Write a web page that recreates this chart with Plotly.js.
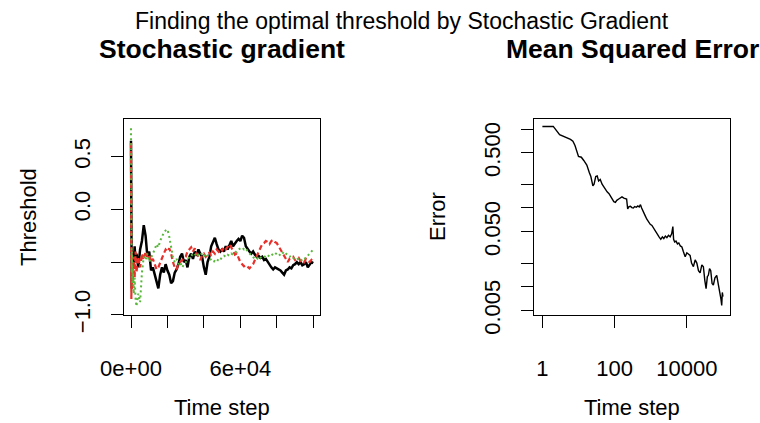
<!DOCTYPE html>
<html>
<head>
<meta charset="utf-8">
<script src="https://cdn.plot.ly/plotly-3.0.1.min.js"></script>
<style>html,body{margin:0;padding:0;background:#fff;}#chart{width:760px;height:423px;}</style>
</head>
<body>
<div id="chart"></div>
<script>
// ---- Left panel: threshold trajectories (time step, threshold) ----
const sgSteps = [0,200,400,600,800,1000,1500,2000,2500,
  3000,4000,5000,6000,7000,8000,9000,10000,11000,12000,13000,14000,15000,16000,17000,18000,19000,20000,
  21000,22000,23000,24000,25000,26000,27000,28000,29000,30000,31000,32000,33000,34000,35000,36000,37000,38000,39000,40000,
  41000,42000,43000,44000,45000,46000,47000,48000,49000,50000,51000,52000,53000,54000,55000,56000,57000,58000,59000,60000,
  61000,62000,63000,64000,65000,66000,67000,68000,69000,70000,71000,72000,73000,74000,75000,76000,77000,78000,79000,80000,
  81000,82000,83000,84000,85000,86000,87000,88000,89000,90000,91000,92000,93000,94000,95000,96000,97000,98000,99000,100000];

const thrBlack = [0.65,-0.30,-0.75,-0.45,-0.60,-0.40,-0.55,-0.35,-0.50,
  -0.42,-0.55,-0.38,-0.30,-0.15,-0.25,-0.45,-0.40,-0.58,-0.55,-0.62,-0.70,-0.75,-0.62,-0.55,-0.60,-0.52,-0.58,
  -0.62,-0.70,-0.68,-0.60,-0.57,-0.52,-0.45,-0.42,-0.50,-0.48,-0.55,-0.45,-0.42,-0.47,-0.40,-0.44,-0.38,-0.42,-0.45,-0.55,
  -0.62,-0.50,-0.45,-0.35,-0.30,-0.27,-0.33,-0.38,-0.40,-0.38,-0.40,-0.35,-0.38,-0.33,-0.30,-0.35,-0.32,-0.30,-0.28,-0.30,
  -0.25,-0.27,-0.35,-0.38,-0.40,-0.42,-0.40,-0.43,-0.45,-0.44,-0.46,-0.45,-0.48,-0.47,-0.50,-0.52,-0.55,-0.57,-0.55,-0.56,
  -0.57,-0.58,-0.60,-0.62,-0.58,-0.57,-0.55,-0.56,-0.53,-0.52,-0.50,-0.52,-0.50,-0.53,-0.52,-0.50,-0.55,-0.52,-0.50,-0.51];

const thrRed = [0.63,-0.85,-0.40,-0.75,-0.50,-0.70,-0.45,-0.65,-0.40,
  -0.60,-0.45,-0.55,-0.42,-0.48,-0.40,-0.45,-0.43,-0.50,-0.47,-0.52,-0.57,-0.55,-0.50,-0.45,-0.42,-0.38,-0.40,
  -0.37,-0.42,-0.50,-0.55,-0.57,-0.52,-0.50,-0.48,-0.47,-0.45,-0.40,-0.38,-0.36,-0.40,-0.37,-0.42,-0.45,-0.48,-0.44,-0.42,
  -0.45,-0.43,-0.41,-0.44,-0.40,-0.42,-0.38,-0.40,-0.37,-0.39,-0.36,-0.38,-0.35,-0.33,-0.36,-0.40,-0.43,-0.42,-0.46,-0.50,
  -0.52,-0.54,-0.53,-0.55,-0.56,-0.54,-0.52,-0.48,-0.44,-0.40,-0.36,-0.33,-0.32,-0.30,-0.31,-0.33,-0.30,-0.29,-0.31,-0.32,
  -0.35,-0.38,-0.42,-0.45,-0.48,-0.50,-0.47,-0.46,-0.45,-0.48,-0.47,-0.46,-0.49,-0.48,-0.50,-0.47,-0.49,-0.50,-0.48,-0.50];

const thrGreen = [0.77,-0.30,-0.60,-0.40,-0.70,-0.55,-0.80,-0.65,-0.85,
  -0.92,-0.80,-0.88,-0.60,-0.45,-0.48,-0.42,-0.50,-0.46,-0.43,-0.38,-0.33,-0.36,-0.30,-0.25,-0.22,-0.20,-0.19,
  -0.26,-0.35,-0.45,-0.50,-0.47,-0.52,-0.50,-0.55,-0.53,-0.50,-0.48,-0.45,-0.43,-0.44,-0.42,-0.45,-0.43,-0.41,-0.43,-0.45,
  -0.42,-0.44,-0.46,-0.48,-0.50,-0.49,-0.50,-0.47,-0.48,-0.45,-0.44,-0.45,-0.43,-0.44,-0.42,-0.43,-0.41,-0.40,-0.38,-0.37,
  -0.36,-0.38,-0.37,-0.40,-0.42,-0.44,-0.45,-0.47,-0.46,-0.48,-0.46,-0.45,-0.44,-0.46,-0.45,-0.43,-0.44,-0.42,-0.43,-0.41,
  -0.42,-0.44,-0.42,-0.40,-0.42,-0.43,-0.45,-0.44,-0.46,-0.47,-0.46,-0.48,-0.47,-0.49,-0.47,-0.46,-0.44,-0.42,-0.40,-0.38];

// ---- Right panel: mean squared error (time step, error) ----
const mseSteps = [1,2,3,4,5,6,7,8,10,12,14,17,20,22,25,27,30,33,36,40,45,50,56,62,70,78,86,95,105,115,
  130,145,160,180,200,215,230,250,275,300,330,360,400,440,480,520,560,620,700,780,870,970,1080,1200,1350,1500,
  1700,1900,2100,2300,2550,2800,3100,3450,3800,4100,4300,4600,5000,5500,6000,6600,7300,8000,9000,10000,11000,
  12300,13500,15200,17000,18900,21000,23300,26000,28700,31500,34100,37000,39400,42500,45900,50000,54200,60000,
  67300,75000,83000,88000,92400,96000,100000];
const mseErr = [1.08,1.08,0.85,0.80,0.78,0.74,0.70,0.62,0.45,0.44,0.40,0.35,0.28,0.25,0.19,0.20,0.25,0.255,0.22,0.23,
  0.20,0.185,0.175,0.16,0.152,0.14,0.128,0.12,0.118,0.125,0.13,0.134,0.138,0.133,0.131,0.13,0.097,0.104,0.105,0.101,
  0.10,0.104,0.102,0.106,0.103,0.11,0.10,0.092,0.08,0.072,0.066,0.062,0.06,0.055,0.05,0.047,0.043,0.04,0.043,0.041,
  0.044,0.042,0.045,0.043,0.047,0.058,0.04,0.037,0.038,0.035,0.036,0.033,0.032,0.028,0.024,0.027,0.026,0.025,0.02,
  0.018,0.022,0.02,0.016,0.015,0.019,0.018,0.012,0.0095,0.0135,0.014,0.017,0.016,0.011,0.0105,0.013,0.014,0.0105,
  0.0086,0.007,0.0058,0.0085,0.0075];

// ---- Tick labels ----
const leftXTicks = [0,20000,40000,60000,80000,100000];
const leftXLabels = ["0e+00","","","6e+04","",""];
const leftYTicks = [-1,-0.5,0,0.5];
const leftYLabels = ["\u22121.0","","0.0","0.5"];
const rightXTicks = [1,100,10000];
const rightXLabels = ["1","100","10000"];
const rightYTicks = [0.005,0.01,0.02,0.05,0.1,0.2,0.5,1];
const rightYLabels = ["0.005","","","0.050","","","0.500",""];

const FONT = '"Liberation Sans", Arial, Helvetica, sans-serif';
const W = 760, H = 423;
const px = v => v / W, py = v => 1 - v / H;

const traces = [
  {x: sgSteps, y: thrBlack, xaxis:'x', yaxis:'y', mode:'lines', line:{color:'#000000', width:2.5}},
  {x: sgSteps, y: thrRed, xaxis:'x', yaxis:'y', mode:'lines', line:{color:'#E8302A', width:2.2, dash:'5px,3px'}},
  {x: sgSteps, y: thrGreen, xaxis:'x', yaxis:'y', mode:'lines', line:{color:'#58B83A', width:2, dash:'2px,3px'}},
  {x: mseSteps, y: mseErr, xaxis:'x2', yaxis:'y2', mode:'lines', line:{color:'#000000', width:1.4}}
];

const axBase = {
  showline:true, mirror:true, linecolor:'#000', linewidth:1, showgrid:false, zeroline:false,
  ticks:'outside', ticklen:12, tickwidth:1, tickcolor:'#000',
  tickfont:{family:FONT, size:22, color:'#000'}, tickmode:'array'
};

const layout = {
  width: W, height: H,
  margin:{l:0,r:0,t:0,b:0},
  paper_bgcolor:'#fff', plot_bgcolor:'#fff',
  showlegend:false,
  font:{family:FONT, color:'#000'},
  xaxis: Object.assign({}, axBase, {domain:[px(124), px(320)], range:[-3840,103700],
    tickvals:leftXTicks, ticktext:leftXLabels, anchor:'y', ticklabelstandoff:22}),
  yaxis: Object.assign({}, axBase, {domain:[py(315), py(119.3)], range:[-1.002,0.854],
    tickvals:leftYTicks, ticktext:leftYLabels, anchor:'x', tickangle:-90, ticklabelstandoff:12}),
  xaxis2: Object.assign({}, axBase, {domain:[px(534), px(730)], type:'log', range:[-0.232,5.195],
    tickvals:rightXTicks, ticktext:rightXLabels, anchor:'y2', ticklabelstandoff:22}),
  yaxis2: Object.assign({}, axBase, {domain:[py(315), py(119.3)], type:'log', range:[-2.357,0.124],
    tickvals:rightYTicks, ticktext:rightYLabels, anchor:'x2', tickangle:-90, ticklabelstandoff:12}),
  annotations:[
    {text:'Finding the optimal threshold by Stochastic Gradient', x:px(402), y:py(21), xref:'paper', yref:'paper',
     showarrow:false, xanchor:'center', yanchor:'middle', font:{family:FONT, size:23, color:'#000'}},
    {text:'<b>Stochastic gradient</b>', x:px(222), y:py(49), xref:'paper', yref:'paper',
     showarrow:false, xanchor:'center', yanchor:'middle', font:{family:FONT, size:26.5, color:'#000'}},
    {text:'<b>Mean Squared Error</b>', x:px(632), y:py(49), xref:'paper', yref:'paper',
     showarrow:false, xanchor:'center', yanchor:'middle', font:{family:FONT, size:26.5, color:'#000'}},
    {text:'Time step', x:px(222), y:py(407), xref:'paper', yref:'paper',
     showarrow:false, xanchor:'center', yanchor:'middle', font:{family:FONT, size:22, color:'#000'}},
    {text:'Time step', x:px(632), y:py(407), xref:'paper', yref:'paper',
     showarrow:false, xanchor:'center', yanchor:'middle', font:{family:FONT, size:22, color:'#000'}},
    {text:'Threshold', x:px(29), y:py(217), xref:'paper', yref:'paper', textangle:-90,
     showarrow:false, xanchor:'center', yanchor:'middle', font:{family:FONT, size:22, color:'#000'}},
    {text:'Error', x:px(438), y:py(217), xref:'paper', yref:'paper', textangle:-90,
     showarrow:false, xanchor:'center', yanchor:'middle', font:{family:FONT, size:22, color:'#000'}}
  ]
};

Plotly.newPlot('chart', traces, layout, {staticPlot:true, displayModeBar:false});
</script>
</body>
</html>
